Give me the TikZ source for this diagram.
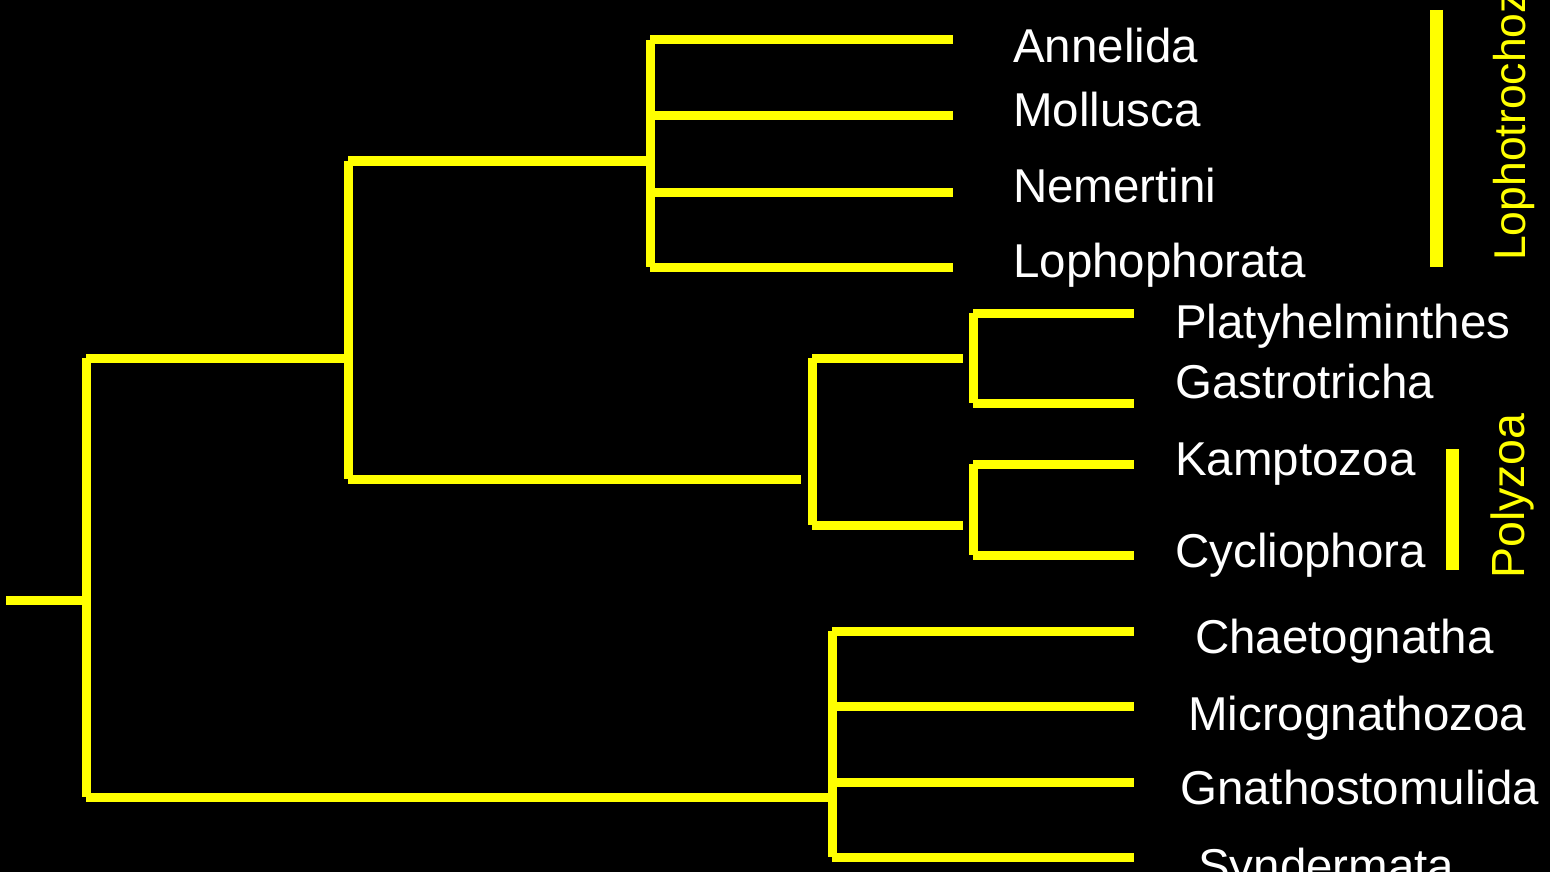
\documentclass[tikz,border=0pt]{standalone}
\usepackage{fontspec}
\setmainfont{Liberation Sans}
\begin{document}
\begin{tikzpicture}[x=1pt,y=-1pt,
  branch/.style={draw=treeyellow,line width=9pt,line cap=butt},
  cladebar/.style={draw=treeyellow,line width=13pt,line cap=butt},
  taxon/.style={text=white,anchor=base west,inner sep=0pt,font=\fontsize{47.5}{50}\selectfont},
  cladename/.style={text=treeyellow,anchor=base west,inner sep=0pt,rotate=90,font=\fontsize{46.5}{50}\selectfont}]
\definecolor{treeyellow}{RGB}{255,255,0}
\fill[black] (0,0) rectangle (1550,872);
\useasboundingbox (0,0) rectangle (1550,872);
% coordinates
\coordinate (root) at (6,600);
\coordinate (r1) at (86,600);
\coordinate (rt) at (86,358);
\coordinate (rb) at (86,797);
\coordinate (aT) at (348,358);
\coordinate (aTop) at (348,161);
\coordinate (aBot) at (348,479);
\coordinate (lStub) at (646,161);
\coordinate (lTop) at (650,40);
\coordinate (lBot) at (650,267);
\coordinate (l1) at (650,40);   \coordinate (e1) at (953,40);
\coordinate (l2) at (650,116);  \coordinate (e2) at (953,116);
\coordinate (l3) at (650,192);  \coordinate (e3) at (953,192);
\coordinate (l4) at (650,267);  \coordinate (e4) at (953,267);
\coordinate (pStub) at (801,479);
\coordinate (pTop) at (812,358);
\coordinate (pBot) at (812,525);
\coordinate (pT1) at (963,358);
\coordinate (pB1) at (963,525);
\coordinate (q1t) at (973,313); \coordinate (q1b) at (973,403);
\coordinate (q2t) at (973,464); \coordinate (q2b) at (973,555);
\coordinate (f5) at (1134,313); \coordinate (f6) at (1134,403);
\coordinate (f7) at (1134,464); \coordinate (f8) at (1134,555);
\coordinate (bStub) at (828,797);
\coordinate (bTop) at (832,631);
\coordinate (bBot) at (832,857);
\coordinate (b10) at (832,706);
\coordinate (b11) at (832,782);
\coordinate (g9) at (1134,631);
\coordinate (g10) at (1134,706);
\coordinate (g11) at (1134,782);
\coordinate (g12) at (1134,857);
% tree
\draw[branch] (root) -- (r1);
\draw[branch] (rt) -- (rb);
\draw[branch] (rt) -- (aT);
\draw[branch] (aTop) -- (aBot);
\draw[branch] (aTop) -- (lStub);
\draw[branch] (lTop) -- (lBot);
\draw[branch] (l1) -- (e1);
\draw[branch] (l2) -- (e2);
\draw[branch] (l3) -- (e3);
\draw[branch] (l4) -- (e4);
\draw[branch] (aBot) -- (pStub);
\draw[branch] (pTop) -- (pBot);
\draw[branch] (pTop) -- (pT1);
\draw[branch] (pBot) -- (pB1);
\draw[branch] (q1t) -- (q1b);
\draw[branch] (q2t) -- (q2b);
\draw[branch] (q1t) -- (f5);
\draw[branch] (q1b) -- (f6);
\draw[branch] (q2t) -- (f7);
\draw[branch] (q2b) -- (f8);
\draw[branch] (rb) -- (bStub);
\draw[branch] (bTop) -- (bBot);
\draw[branch] (bTop) -- (g9);
\draw[branch] (b10) -- (g10);
\draw[branch] (b11) -- (g11);
\draw[branch] (bBot) -- (g12);
% taxa
\node[taxon] (t1) at (1013,63) {Annelida};
\node[taxon] (t2) at (1013,127) {Mollusca};
\node[taxon] (t3) at (1013,202) {Nemertini};
\node[taxon] (t4) at (1013,277) {Lophophorata};
\node[taxon] (t5) at (1175,338) {Platyhelminthes};
\node[taxon] (t6) at (1175,398) {Gastrotricha};
\node[taxon] (t7) at (1175,475) {Kamptozoa};
\node[taxon] (t8) at (1175,567) {Cycliophora};
\node[taxon] (t9) at (1195,653) {Chaetognatha};
\node[taxon] (t10) at (1188,730) {Micrognathozoa};
\node[taxon] (t11) at (1180,804) {Gnathostomulida};
\node[taxon] (t12) at (1198,882) {Syndermata};
% clade bars
\coordinate (lbT) at (1436,10);
\coordinate (lbB) at (1436,267);
\draw[cladebar] (lbT) -- (lbB);
\coordinate (pbT) at (1452,449);
\coordinate (pbB) at (1452,570);
\draw[cladebar] (pbT) -- (pbB);
\node[cladename,font=\fontsize{44.5}{50}\selectfont] (c1) at (1525,261) {Lophotrochozoa};
\node[cladename] (c2) at (1524,579) {Polyzoa};
\end{tikzpicture}
\end{document}
